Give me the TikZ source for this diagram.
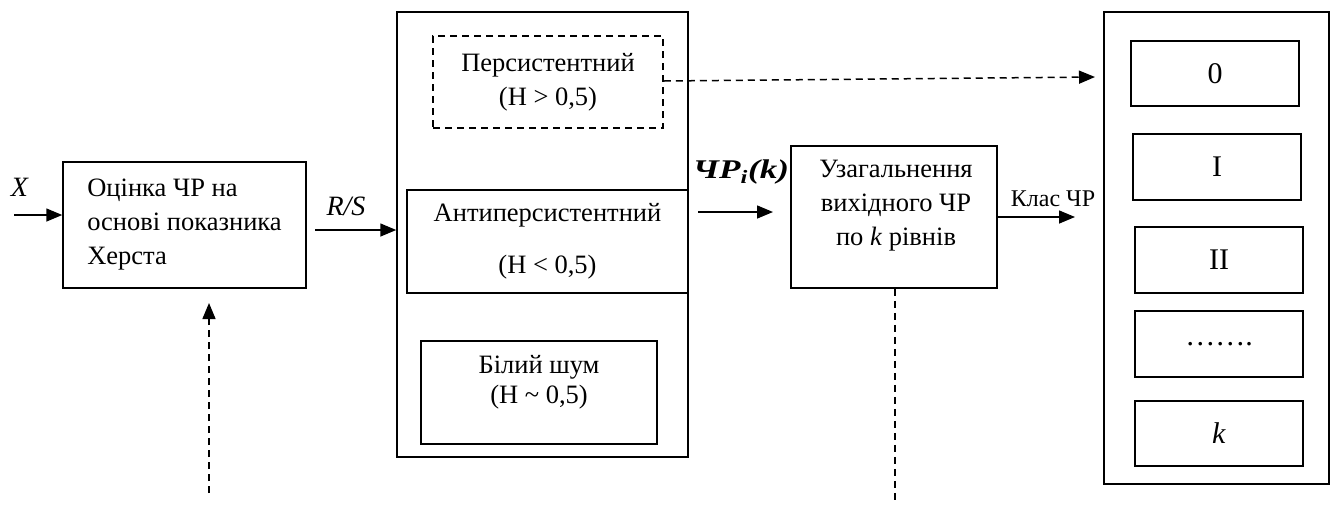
\documentclass[tikz,border=0pt]{standalone}
\usepackage{fontspec}
\usepackage{graphicx}
\setmainfont{Liberation Serif}
\usetikzlibrary{arrows.meta,calc}
\tikzset{
  box/.style={draw,line width=1.5pt,inner sep=0pt,align=center},
  dbox/.style={box,dash pattern=on 7pt off 5pt},
  kbox/.style={box,minimum width=168pt,font=\fontsize{30}{34}\selectfont},
  txt/.style={inner sep=0pt,align=center},
  arr/.style={line width=1.5pt,-{Triangle[length=16pt,width=13pt]}},
  darr/.style={arr,dash pattern=on 7pt off 5pt},
  dline/.style={line width=1.5pt,dash pattern=on 7pt off 5pt}
}
\begin{document}
\begin{tikzpicture}[x=1pt,y=-1pt,font=\fontsize{26.5}{34}\selectfont]
\useasboundingbox (0,0) rectangle (1336,507);
% left block
\node[box,align=left,minimum width=243pt,minimum height=126pt] (A) at (184.5,225)
  {Оцінка ЧР на\\основі показника\\Херста};
% big middle box
\node[box,minimum width=291pt,minimum height=445pt] (B) at (542.5,234.5) {};
\node[dbox,minimum width=230pt,minimum height=92pt] (P) at (548,82)
  {Персистентний\\(H > 0,5)};
\node[box,minimum width=281pt,minimum height=103pt] (AP) at (547.5,241.5)
  {Антиперсистентний\\[18pt](H < 0,5)};
\node[box,minimum width=236pt,minimum height=103pt] (W) at (539,392.5) {};
\node[txt,font=\fontsize{26.5}{30}\selectfont] (Wt) at (539,382) {Білий шум\\(H \char`\~{} 0,5)};
% generalisation block
\node[box,minimum width=206pt,minimum height=142pt] (C) at (894,217) {};
\node[txt] (Ct) at (896,206) {Узагальнення\\вихідного ЧР\\по \textit{k} рівнів};
% classes box
\node[box,minimum width=225pt,minimum height=472pt] (D) at (1216.5,248) {};
\node[kbox,minimum height=65pt] (K0) at (1215,73.5) {0};
\node[kbox,minimum height=66pt] (K1) at (1217,167) {I};
\node[kbox,minimum height=66pt] (K2) at (1219,260) {II};
\node[kbox,minimum height=66pt] (K3) at (1219,344) {…….};
\node[kbox,minimum height=65pt] (K4) at (1219,433.5) {\textit{k}};
% labels
\node[txt,font=\fontsize{28}{30}\selectfont] (Xl) at (20,187) {\textit{X}};
\node[txt,font=\fontsize{28}{30}\selectfont] (RSl) at (346,206) {\textit{R/S}};
\node[txt,font=\fontsize{27}{30}\selectfont] (CPl) at (741,172)
  {\scalebox{1.3}[1]{\bfseries\itshape ЧР\textsubscript{\bfseries\itshape i}(k)}};
\node[txt,font=\fontsize{24}{28}\selectfont] (KCl) at (1053,199) {Клас ЧР};
% coordinates for free ends
\coordinate (xin) at (14,215);
\coordinate (rsin) at (315,230);
\coordinate (cpin) at (698,212);
\coordinate (cpout) at (773,212);
\coordinate (kout) at (1075,217);
\coordinate (pout) at (1095,77);
\coordinate (up0) at (209,493);
\coordinate (up1) at (209,303);
\coordinate (down1) at (895,500);
% connectors
\draw[arr] (xin) -- (xin -| A.west);
\draw[arr] (rsin) -- (rsin -| B.west);
\draw[arr] (cpin) -- (cpout);
\draw[arr] (C.east |- kout) -- (kout);
\draw[darr] ($(P.east)+(0,-1)$) -- (pout);
\draw[darr] (up0) -- (up1);
\draw[dline] (C.south -| down1) -- (down1);
\end{tikzpicture}
\end{document}
